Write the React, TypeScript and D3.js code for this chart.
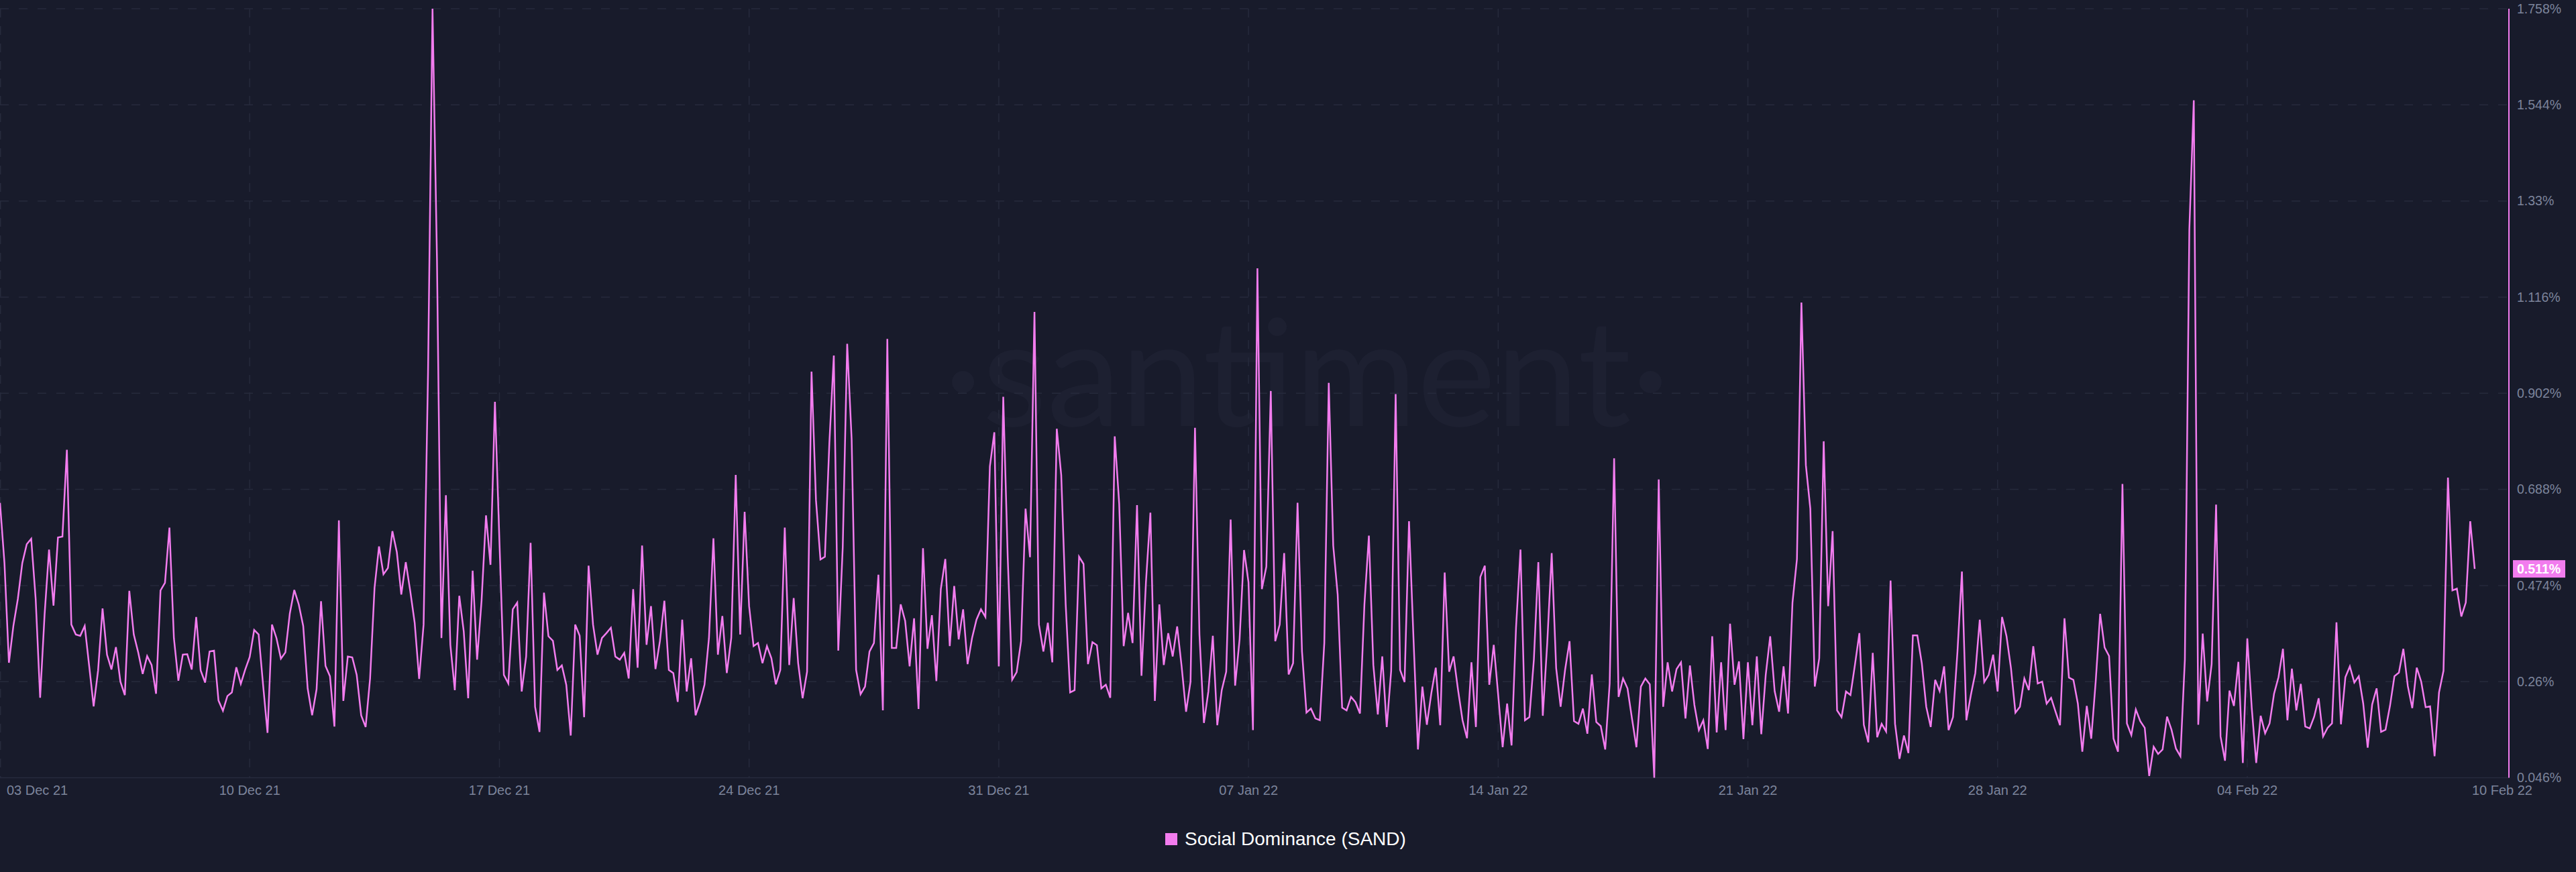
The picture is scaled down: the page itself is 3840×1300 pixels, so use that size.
import React from "react";
import * as d3 from "d3";

// ---- Data: Social Dominance (SAND), 3-hour steps starting 03 Dec 2021 00:00 UTC ----
const startDate = new Date(Date.UTC(2021, 11, 3, 0, 0, 0));
const stepHours = 3;

const week1 = [
  0.658, 0.524, 0.302, 0.384, 0.444, 0.524, 0.566, 0.578, 0.444, 0.224, 0.409, 0.554, 0.429, 0.581,
  0.583, 0.776, 0.387, 0.365, 0.362, 0.384, 0.295, 0.205, 0.285, 0.423, 0.32, 0.287, 0.337, 0.26,
  0.23, 0.462, 0.365, 0.325, 0.277, 0.317, 0.297, 0.233, 0.463, 0.48, 0.603, 0.357, 0.262, 0.32,
  0.321, 0.287, 0.404, 0.285, 0.258, 0.327, 0.329, 0.218, 0.195, 0.228, 0.236, 0.292, 0.255, 0.287,
];
const week2 = [
  0.315, 0.375, 0.365, 0.253, 0.146, 0.387, 0.357, 0.311, 0.325, 0.412, 0.464, 0.432, 0.384, 0.245,
  0.185, 0.243, 0.439, 0.295, 0.272, 0.16, 0.619, 0.217, 0.316, 0.314, 0.275, 0.185, 0.159, 0.267,
  0.469, 0.561, 0.499, 0.513, 0.595, 0.548, 0.454, 0.526, 0.462, 0.391, 0.266, 0.387, 0.95, 1.758,
  1.2, 0.357, 0.675, 0.342, 0.241, 0.451, 0.372, 0.223, 0.507, 0.309, 0.44, 0.63, 0.52, 0.883,
];
const week3 = [
  0.574, 0.275, 0.256, 0.421, 0.436, 0.238, 0.316, 0.569, 0.204, 0.148, 0.458, 0.361, 0.351, 0.286,
  0.296, 0.253, 0.14, 0.387, 0.362, 0.181, 0.518, 0.387, 0.32, 0.357, 0.368, 0.38, 0.316, 0.309,
  0.324, 0.267, 0.466, 0.291, 0.563, 0.342, 0.428, 0.288, 0.35, 0.44, 0.286, 0.279, 0.215, 0.398,
  0.238, 0.312, 0.185, 0.215, 0.253, 0.357, 0.579, 0.32, 0.406, 0.279, 0.357, 0.72, 0.365, 0.638,
];
const week4 = [
  0.428, 0.339, 0.346, 0.301, 0.339, 0.312, 0.254, 0.286, 0.603, 0.297, 0.446, 0.301, 0.223, 0.282,
  0.95, 0.664, 0.532, 0.538, 0.791, 0.986, 0.329, 0.559, 1.012, 0.799, 0.286, 0.232, 0.249, 0.327,
  0.346, 0.498, 0.196, 1.023, 0.335, 0.335, 0.432, 0.395, 0.294, 0.401, 0.199, 0.557, 0.333, 0.408,
  0.261, 0.466, 0.533, 0.339, 0.473, 0.354, 0.421, 0.299, 0.357, 0.398, 0.421, 0.404, 0.739, 0.815,
];
const week5 = [
  0.294, 0.894, 0.537, 0.264, 0.281, 0.35, 0.645, 0.537, 1.083, 0.387, 0.327, 0.391, 0.303, 0.823,
  0.72, 0.432, 0.236, 0.241, 0.538, 0.522, 0.299, 0.348, 0.341, 0.245, 0.253, 0.224, 0.806, 0.656,
  0.339, 0.413, 0.346, 0.653, 0.273, 0.481, 0.636, 0.217, 0.432, 0.297, 0.368, 0.316, 0.383, 0.294,
  0.193, 0.26, 0.825, 0.365, 0.168, 0.238, 0.362, 0.163, 0.241, 0.282, 0.621, 0.251, 0.354, 0.553,
];
const week6 = [
  0.481, 0.152, 1.18, 0.466, 0.516, 0.907, 0.35, 0.387, 0.546, 0.276, 0.301, 0.658, 0.327, 0.191,
  0.2, 0.178, 0.174, 0.346, 0.925, 0.563, 0.454, 0.202, 0.196, 0.226, 0.214, 0.189, 0.432, 0.585,
  0.297, 0.187, 0.316, 0.159, 0.284, 0.9, 0.286, 0.259, 0.617, 0.357, 0.109, 0.249, 0.164, 0.234,
  0.291, 0.163, 0.503, 0.282, 0.316, 0.241, 0.174, 0.134, 0.303, 0.159, 0.493, 0.518, 0.253, 0.342,
];
const week7 = [
  0.23, 0.114, 0.211, 0.118, 0.38, 0.554, 0.174, 0.181, 0.309, 0.526, 0.184, 0.346, 0.546, 0.29,
  0.204, 0.286, 0.35, 0.172, 0.166, 0.2, 0.144, 0.276, 0.17, 0.161, 0.109, 0.256, 0.757, 0.226,
  0.267, 0.245, 0.178, 0.114, 0.249, 0.267, 0.254, 0.046, 0.71, 0.204, 0.303, 0.238, 0.288, 0.303,
  0.178, 0.296, 0.208, 0.152, 0.174, 0.11, 0.361, 0.147, 0.303, 0.152, 0.389, 0.253, 0.305, 0.132,
];
const week8 = [
  0.303, 0.163, 0.316, 0.143, 0.275, 0.361, 0.239, 0.193, 0.294, 0.189, 0.436, 0.533, 1.104, 0.742,
  0.645, 0.249, 0.312, 0.795, 0.428, 0.595, 0.196, 0.181, 0.238, 0.23, 0.297, 0.368, 0.164, 0.125,
  0.324, 0.136, 0.166, 0.149, 0.485, 0.166, 0.088, 0.14, 0.101, 0.363, 0.363, 0.301, 0.204, 0.159,
  0.264, 0.239, 0.294, 0.152, 0.181, 0.327, 0.505, 0.174, 0.23, 0.279, 0.398, 0.259, 0.275, 0.32,
];
const week9 = [
  0.238, 0.404, 0.361, 0.29, 0.191, 0.204, 0.267, 0.241, 0.339, 0.256, 0.26, 0.211, 0.224, 0.193,
  0.163, 0.401, 0.269, 0.264, 0.211, 0.104, 0.206, 0.133, 0.26, 0.411, 0.336, 0.317, 0.133, 0.104,
  0.7, 0.167, 0.141, 0.198, 0.172, 0.157, 0.05, 0.115, 0.099, 0.109, 0.182, 0.153, 0.111, 0.094,
  0.309, 1.266, 1.554, 0.164, 0.367, 0.216, 0.299, 0.654, 0.138, 0.084, 0.24, 0.206, 0.304, 0.079,
];
const week10 = [
  0.356, 0.201, 0.079, 0.184, 0.145, 0.167, 0.233, 0.27, 0.333, 0.174, 0.289, 0.196, 0.255, 0.16,
  0.156, 0.182, 0.223, 0.138, 0.157, 0.167, 0.392, 0.165, 0.27, 0.294, 0.258, 0.272, 0.211, 0.113,
  0.209, 0.245, 0.148, 0.153, 0.206, 0.272, 0.28, 0.333, 0.25, 0.201, 0.291, 0.26, 0.203, 0.205,
  0.094, 0.236, 0.284, 0.714, 0.463, 0.467, 0.405, 0.436, 0.617, 0.511,
];

const seriesName = "Social Dominance (SAND)";
const yTicks = [0.046, 0.26, 0.474, 0.688, 0.902, 1.116, 1.33, 1.544, 1.758];
const weekTickCount = 10; // 03 Dec ... 04 Feb

// ---- Styling ----
const W = 3840;
const H = 1300;
const BG = "#181b2b";
const GRID = "#262a3c";
const LINE = "#f27cee";
const LABEL = "#7c849b";
const FONT = "'Liberation Sans', Arial, Helvetica, sans-serif";

const plotLeft = 0;
const plotRight = 3740;
const plotTop = 13;
const plotBottom = 1159.5;
const lastX = 3689;

export default function App() {
  const values = [...week1, ...week2, ...week3, ...week4, ...week5, ...week6, ...week7, ...week8, ...week9, ...week10];
  const data = values.map((v, i) => ({ date: d3.utcHour.offset(startDate, stepHours * i), value: v }));
  const lastDate = data[data.length - 1].date;
  const lastValue = data[data.length - 1].value;

  const x = d3.scaleUtc().domain([startDate, lastDate]).range([plotLeft, lastX]);
  const ext = d3.extent(values) as [number, number];
  const y = d3.scaleLinear().domain(ext).range([plotBottom, plotTop]);

  const line = d3
    .line<{ date: Date; value: number }>()
    .x((d) => x(d.date))
    .y((d) => y(d.value))
    .curve(d3.curveLinear);

  const fmtDate = d3.utcFormat("%d %b %y");
  const fmtPct = d3.format(".3~f");
  const xTicks = d3.range(weekTickCount).map((k) => d3.utcDay.offset(startDate, 7 * k));

  const lastY = y(lastValue);

  return (
    <div style={{ position: "absolute", left: 0, top: 0, width: W, height: H, background: BG }}>
      <svg width={W} height={H} style={{ display: "block" }} fontFamily={FONT}>
        <rect x={0} y={0} width={W} height={H} fill={BG} />

        {/* watermark */}
        <text
          x={1948}
          y={635}
          textAnchor="middle"
          fontFamily="Lato, 'Open Sans', sans-serif"
          fontSize={222}
          fill="#1d2031"
        >
          ·santiment·
        </text>

        {/* horizontal grid */}
        {yTicks.slice(1).map((t) => (
          <line
            key={"h" + t}
            x1={plotLeft}
            x2={plotRight}
            y1={y(t)}
            y2={y(t)}
            stroke={GRID}
            strokeWidth={1.5}
            strokeDasharray="13 15"
          />
        ))}

        {/* vertical grid */}
        {xTicks.map((t) => (
          <line
            key={"v" + t.getTime()}
            x1={x(t) + (x(t) === 0 ? 0.75 : 0)}
            x2={x(t) + (x(t) === 0 ? 0.75 : 0)}
            y1={plotTop}
            y2={plotBottom}
            stroke={GRID}
            strokeWidth={1.5}
            strokeDasharray="13 13"
          />
        ))}

        {/* bottom axis line */}
        <line x1={plotLeft} x2={plotRight} y1={plotBottom} y2={plotBottom} stroke="#272b3e" strokeWidth={1.5} />

        {/* series */}
        <path d={line(data) || ""} fill="none" stroke={LINE} strokeWidth={2.5} strokeLinejoin="miter" />

        {/* right axis line */}
        <line x1={plotRight} x2={plotRight} y1={plotTop} y2={plotBottom} stroke={LINE} strokeWidth={2} />

        {/* y tick labels */}
        {yTicks.map((t) => (
          <text key={"yl" + t} x={3752} y={y(t)} dy="0.35em" fontSize={19.5} fill={LABEL}>
            {fmtPct(t) + "%"}
          </text>
        ))}

        {/* last value badge */}
        <rect x={3746} y={lastY - 13} width={78} height={26} fill={LINE} />
        <text x={3752} y={lastY} dy="0.35em" fontSize={19.5} fill="#ffffff" fontWeight={600}>
          {fmtPct(lastValue) + "%"}
        </text>

        {/* x tick labels */}
        {xTicks.map((t, i) => (
          <text
            key={"xl" + t.getTime()}
            x={i === 0 ? x(t) + 10 : x(t)}
            y={1185}
            textAnchor={i === 0 ? "start" : "middle"}
            fontSize={20}
            fill={LABEL}
          >
            {fmtDate(t)}
          </text>
        ))}
        <text x={3775} y={1185} textAnchor="end" fontSize={20} fill={LABEL}>
          {fmtDate(lastDate)}
        </text>

        {/* legend */}
        <rect x={1737} y={1242} width={18} height={18} fill={LINE} />
        <text x={1766} y={1260} fontSize={28} fill="#ffffff">
          {seriesName}
        </text>
      </svg>
    </div>
  );
}
